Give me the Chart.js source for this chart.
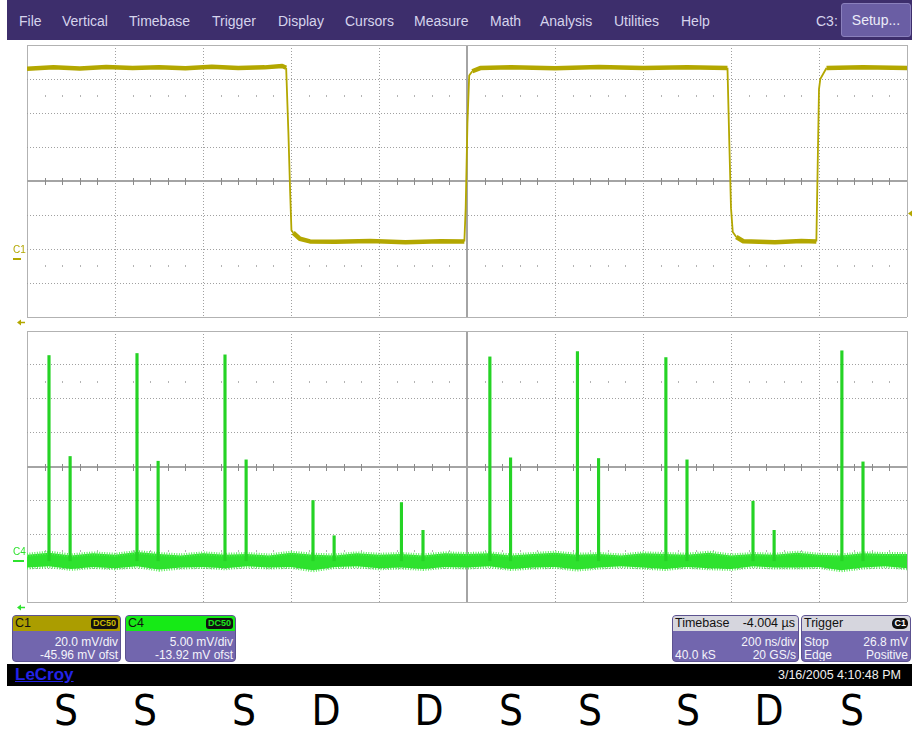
<!DOCTYPE html>
<html>
<head>
<meta charset="utf-8">
<title>LeCroy capture</title>
<script src="https://cdn.jsdelivr.net/npm/chart.js@4.4.1/dist/chart.umd.min.js"></script>
<style>
  html, body { margin: 0; background: #fff; }
  body { width: 912px; height: 730px; position: relative; overflow: hidden; font-family: "Liberation Sans", Arial, sans-serif; }
  #menubar { position: absolute; left: 7px; top: 0; width: 905px; height: 40px; background: #3d2e6c; }
  .mi { position: absolute; top: 13px; font-size: 14px; line-height: 16px; color: #d6d4ec; white-space: nowrap; }
  #setup { position: absolute; left: 841px; top: 3px; width: 70px; height: 34px; box-sizing: border-box; background: #6a5ea4; border: 1px solid #8a80bc; border-radius: 3px; color: #ececf8; font-size: 14px; line-height: 32px; text-align: center; }
  canvas { position: absolute; left: 0; }
  #c1chart { top: 40px; }
  #c4chart { top: 325px; }
  .box { position: absolute; top: 615px; height: 47px; box-sizing: border-box; background: #7266ae; border: 1px solid #5c5290; border-radius: 4px; overflow: hidden; color: #f4f4fa; font-size: 12px; }
  .hd { position: absolute; left: 0; right: 0; top: 0; height: 15px; line-height: 15px; color: #111; font-size: 12.5px; padding-left: 2px; }
  .badge { position: absolute; right: 2px; top: 2px; height: 11px; line-height: 11px; padding: 0 2px; background: #111; border-radius: 3px; font-size: 9px; font-weight: bold; }
  .ln { position: absolute; line-height: 13px; white-space: nowrap; }
  .l { left: 2px; }
  .r { right: 2px; }
  #status { position: absolute; left: 7px; top: 664px; width: 905px; height: 22px; background: #000; }
  #logo { position: absolute; left: 8px; top: 1px; color: #2323e8; font-size: 17px; font-weight: bold; text-decoration: underline; }
  #stamp { position: absolute; right: 11px; top: 4px; color: #f0f0f0; font-size: 12.5px; }
  .bit { position: absolute; top: 690px; transform: translateX(-50%); font-family: "Liberation Sans Narrow", "DejaVu Sans Condensed", "DejaVu Sans", sans-serif; font-size: 42px; line-height: 42px; color: #000; }
</style>
</head>
<body>

<div id="menubar"></div>
<span class="mi" style="left:19px">File</span>
<span class="mi" style="left:62px">Vertical</span>
<span class="mi" style="left:129px">Timebase</span>
<span class="mi" style="left:212px">Trigger</span>
<span class="mi" style="left:278px">Display</span>
<span class="mi" style="left:345px">Cursors</span>
<span class="mi" style="left:414px">Measure</span>
<span class="mi" style="left:490px">Math</span>
<span class="mi" style="left:540px">Analysis</span>
<span class="mi" style="left:614px">Utilities</span>
<span class="mi" style="left:681px">Help</span>
<span class="mi" style="left:816px">C3:</span>
<div id="setup">Setup...</div>

<canvas id="c1chart" width="912" height="290"></canvas>
<canvas id="c4chart" width="912" height="290"></canvas>

<div class="box" style="left:12px; width:109px">
  <div class="hd" style="background:#ab9d00">C1<span class="badge" style="color:#c9b900">DC50</span></div>
  <div class="ln r" style="top:20px">20.0 mV/div</div>
  <div class="ln r" style="top:33px">-45.96 mV ofst</div>
</div>
<div class="box" style="left:125px; width:111px">
  <div class="hd" style="background:#16ea16">C4<span class="badge" style="color:#1ee61e">DC50</span></div>
  <div class="ln r" style="top:20px">5.00 mV/div</div>
  <div class="ln r" style="top:33px">-13.92 mV ofst</div>
</div>
<div class="box" style="left:672px; width:127px">
  <div class="hd" style="background:#d6d6de">Timebase<span style="position:absolute; right:3px">-4.004 µs</span></div>
  <div class="ln r" style="top:20px">200 ns/div</div>
  <div class="ln l" style="top:33px">40.0 kS</div>
  <div class="ln r" style="top:33px">20 GS/s</div>
</div>
<div class="box" style="left:801px; width:110px">
  <div class="hd" style="background:#d6d6de">Trigger<span class="badge" style="color:#fff; border-radius:5px">C1</span></div>
  <div class="ln l" style="top:20px">Stop</div>
  <div class="ln r" style="top:20px">26.8 mV</div>
  <div class="ln l" style="top:33px">Edge</div>
  <div class="ln r" style="top:33px">Positive</div>
</div>

<div id="status"><span id="logo">LeCroy</span><span id="stamp">3/16/2005 4:10:48 PM</span></div>

<div id="bits"></div>

<script>
// channel settings (screen centre = -offset)
const C1_VDIV = 20, C1_CENTER = 45.96;   // mV/div, mV
const C4_VDIV = 5, C4_CENTER = 13.92;
const TRIG_LEVEL = 26.8;                 // mV on C1
const C1_COLOR = '#b3a700';
const C4_COLOR = '#2ee22e';

// time axis: 10 divisions of 200 ns
const timeGridNs = [0, 200, 400, 600, 800, 1000, 1200, 1400, 1600, 1800, 2000];
const vertDivs = [-4, -3, -2, -1, 0, 1, 2, 3, 4];

// C1 trace (ns, mV)
const c1TimeNs = [0, 60, 120, 180, 240, 300, 360, 420, 480, 540,
  580, 589, 594, 598, 601, 605, 620, 643,
  700, 780, 860, 940, 994,
  997, 1001, 1005, 1012, 1030,
  1100, 1200, 1300, 1400, 1500, 1560,
  1592, 1596, 1600, 1604, 1612, 1628,
  1700, 1760, 1794,
  1797, 1800, 1803, 1817,
  1900, 2000];
const c1Mv = [112.0, 112.8, 112.2, 113.0, 112.4, 112.9, 112.3, 113.1, 112.5, 112.8,
  113.6, 112.6, 75, 40, 17, 15.5, 12, 10.4,
  10.2, 10.6, 10.0, 10.5, 10.4,
  30, 80, 108, 110.5, 112.4,
  112.9, 112.3, 113.0, 112.4, 112.8, 112.6,
  112.5, 70, 30, 16, 13, 10.5,
  10.0, 10.6, 10.4,
  55, 100, 106, 112.4,
  112.8, 112.5];

// C4 spikes (ns, peak mV)
const spikeTimeNs = [50, 98, 250, 298, 450, 498, 650, 698, 851, 900,
  1052, 1099, 1251, 1299, 1452, 1500, 1650, 1698, 1852, 1900];
const spikeMv = [30.3, 15.4, 30.6, 14.7, 30.4, 14.9, 8.9, 3.7, 8.6, 4.5,
  30.1, 15.2, 30.9, 15.1, 30.0, 14.9, 8.8, 4.5, 31.0, 14.6];

// C4 baseline noise band, upper and lower edge of the dense core (mV)
const noiseTimeNs = [0, 50, 100, 150, 200, 250, 300, 350, 400, 450, 500, 550, 600, 650,
  700, 750, 800, 850, 900, 950, 1000, 1050, 1100, 1150, 1200, 1250, 1300, 1350,
  1400, 1450, 1500, 1550, 1600, 1650, 1700, 1750, 1800, 1850, 1900, 1950, 2000];
const noiseHiMv = [0.9, 1.2, 0.8, 1.1, 0.9, 1.3, 1.0, 0.8, 1.1, 0.9, 1.0, 0.8, 1.2, 0.9,
  0.8, 1.1, 0.9, 1.0, 0.8, 1.1, 1.0, 1.1, 0.8, 1.0, 1.2, 0.9, 1.0, 0.8,
  1.1, 1.0, 0.9, 1.2, 0.8, 1.0, 0.9, 1.2, 0.9, 0.8, 1.1, 1.0, 1.0];
const noiseLoMv = [-1.0, -0.8, -1.2, -0.9, -1.1, -0.8, -1.3, -1.0, -0.9, -1.1, -0.8, -1.0, -0.9, -1.4,
  -0.9, -0.8, -1.1, -1.0, -1.2, -0.9, -1.0, -0.8, -1.2, -1.0, -0.9, -1.3, -1.0, -0.8,
  -1.0, -1.2, -0.9, -1.1, -1.2, -0.8, -1.0, -1.0, -0.9, -1.4, -1.0, -0.8, -1.1];

// symbol labels under the screen
const bitLabels = ['S', 'S', 'S', 'D', 'D', 'S', 'S', 'S', 'D', 'S'];
const bitLabelX = [66, 145, 244, 326, 429, 511, 590, 688, 769, 852];

const FRAME = '#b2b2b2', DOTS = '#a0a0a0', AXIS = '#a4a4a4';

function pairs(xs, ys) {
    return xs.map((x, i) => ({ x: x, y: ys[i] }));
}

function lineStyle(n) {
    const mid = (n - 1) / 2;
    return {
        color: ctx => (ctx.index === mid ? AXIS : (ctx.index === 0 || ctx.index === n - 1) ? FRAME : DOTS),
        width: ctx => (ctx.index === mid ? 2 : 1),
        dash: ctx => (ctx.index === 0 || ctx.index === n - 1 || ctx.index === mid) ? [] : [1, 2]
    };
}

function scopeScales(center, vdiv) {
    const xs = lineStyle(timeGridNs.length);
    const ys = lineStyle(vertDivs.length);
    return {
        x: {
            type: 'linear', min: 0, max: 2000, offset: false,
            afterBuildTicks: s => { s.ticks = timeGridNs.map(v => ({ value: v })); },
            ticks: { display: false },
            grid: { offset: false, drawTicks: false, lineWidth: xs.width, color: xs.color, borderDash: xs.dash },
            border: { display: false, dash: xs.dash }
        },
        y: {
            type: 'linear', min: center - 4 * vdiv, max: center + 4 * vdiv,
            afterBuildTicks: s => { s.ticks = vertDivs.map(d => ({ value: center + d * vdiv })); },
            ticks: { display: false },
            grid: { offset: false, drawTicks: false, lineWidth: ys.width, color: ys.color, borderDash: ys.dash },
            border: { display: false, dash: ys.dash }
        }
    };
}

// minor ticks on the centre line, dot rows, ground markers and arrows
function scopePlugin(name, color, center, vdiv, trigLevel) {
    return {
        id: 'scope',
        beforeDatasetsDraw(chart) {
            const ctx = chart.ctx, x = chart.scales.x, y = chart.scales.y;
            const yc = Math.round(y.getPixelForValue(center));
            ctx.save();
            ctx.strokeStyle = '#8a8a8a';
            ctx.lineWidth = 1;
            ctx.beginPath();
            for (let t = 40; t < 2000; t += 40) {
                if (t % 200 === 0) continue;
                const px = Math.round(x.getPixelForValue(t)) + 0.5;
                ctx.moveTo(px, yc - 3); ctx.lineTo(px, yc + 4);
            }
            ctx.stroke();
            ctx.fillStyle = '#b4b4b4';
            [2.5, -2.5].forEach(d => {
                const py = Math.round(y.getPixelForValue(center + d * vdiv));
                for (let t = 40; t < 2000; t += 40) {
                    if (t % 200 === 0) continue;
                    ctx.fillRect(Math.round(x.getPixelForValue(t)), py - 1, 1, 2);
                }
            });
            ctx.restore();
        },
        afterDraw(chart) {
            const ctx = chart.ctx, a = chart.chartArea, y = chart.scales.y;
            ctx.save();
            ctx.fillStyle = color;
            ctx.strokeStyle = color;
            // ground reference
            const g = Math.round(y.getPixelForValue(0));
            ctx.fillRect(13, g - 1, name === 'C1' ? 8 : 11, 2);
            ctx.font = '10px "Liberation Sans", Arial, sans-serif';
            ctx.textBaseline = 'bottom';
            ctx.fillText(name, 13, g - 4);
            // horizontal position arrow below the grid
            const ay = a.bottom + 5.5;
            ctx.lineWidth = 1.5;
            ctx.beginPath(); ctx.moveTo(19, ay); ctx.lineTo(25, ay); ctx.stroke();
            ctx.beginPath(); ctx.moveTo(17, ay); ctx.lineTo(21, ay - 3); ctx.lineTo(21, ay + 3); ctx.closePath(); ctx.fill();
            // trigger level marker
            if (trigLevel !== undefined) {
                const ty = y.getPixelForValue(trigLevel);
                ctx.beginPath(); ctx.moveTo(a.right + 1, ty); ctx.lineTo(a.right + 5, ty - 3); ctx.lineTo(a.right + 5, ty + 3); ctx.closePath(); ctx.fill();
            }
            ctx.restore();
        }
    };
}

// thick noisy band on the flat parts, thin line on the edges
function steep(ctx) {
    return Math.abs(ctx.p1.y - ctx.p0.y) > Math.abs(ctx.p1.x - ctx.p0.x);
}

const common = {
    responsive: false,
    animation: false,
    events: [],
    plugins: { legend: { display: false }, tooltip: { enabled: false } },
    elements: { point: { radius: 0 }, line: { tension: 0 } }
};

new Chart(document.getElementById('c1chart'), {
    type: 'line',
    data: {
        datasets: [{
            data: pairs(c1TimeNs, c1Mv),
            borderColor: C1_COLOR,
            borderWidth: 4.5,
            borderJoinStyle: 'round',
            segment: { borderWidth: ctx => steep(ctx) ? 1.8 : 4.5 },
            fill: false
        }]
    },
    options: Object.assign({}, common, {
        layout: { padding: { left: 27, right: 5, top: 5, bottom: 13 } },
        scales: scopeScales(C1_CENTER, C1_VDIV)
    }),
    plugins: [scopePlugin('C1', C1_COLOR, C1_CENTER, C1_VDIV, TRIG_LEVEL)]
});

new Chart(document.getElementById('c4chart'), {
    type: 'line',
    data: {
        datasets: [{
            type: 'bar',
            data: pairs(spikeTimeNs, spikeMv),
            backgroundColor: '#25d325',
            barThickness: 2.5,
            order: 0
        }, {
            data: pairs(noiseTimeNs, noiseHiMv),
            borderColor: '#55ee55',
            backgroundColor: C4_COLOR,
            borderWidth: 4,
            borderDash: [1, 1.5],
            fill: '+1',
            order: 1
        }, {
            data: pairs(noiseTimeNs, noiseLoMv),
            borderColor: '#55ee55',
            borderWidth: 4,
            borderDash: [1, 1.5],
            fill: false,
            order: 1
        }]
    },
    options: Object.assign({}, common, {
        layout: { padding: { left: 27, right: 5, top: 6, bottom: 13 } },
        scales: scopeScales(C4_CENTER, C4_VDIV)
    }),
    plugins: [scopePlugin('C4', C4_COLOR, C4_CENTER, C4_VDIV)]
});

const bits = document.getElementById('bits');
bitLabels.forEach((b, i) => {
    const s = document.createElement('span');
    s.className = 'bit';
    s.style.left = bitLabelX[i] + 'px';
    s.textContent = b;
    bits.appendChild(s);
});
</script>
</body>
</html>
